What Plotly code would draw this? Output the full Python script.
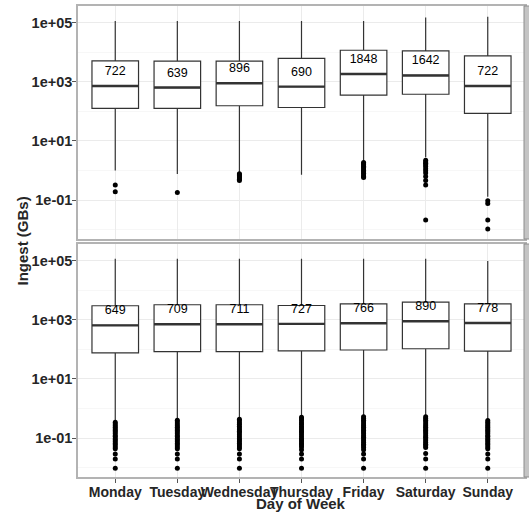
import plotly.graph_objects as go
from plotly.subplots import make_subplots

days = ["Monday", "Tuesday", "Wednesday", "Thursday", "Friday", "Saturday", "Sunday"]

# Top panel: box statistics (GBs)
top_median = [722, 639, 896, 690, 1848, 1642, 722]
top_q1 = [127, 127, 155, 135, 352, 380, 86]
top_q3 = [5100, 5000, 5000, 6200, 11700, 11200, 7600]
top_low = [1.0, 0.76, 0.82, 0.72, 1.9, 2.8, 0.13]
top_high = [115000, 115000, 115000, 115000, 115000, 150000, 158000]
top_outliers = [
    [0.32, 0.19],
    [0.18],
    [0.78, 0.72, 0.66, 0.6, 0.55, 0.5, 0.46],
    [],
    [1.85, 1.7, 1.55, 1.4, 1.25, 1.12, 1.0, 0.9, 0.8, 0.7, 0.62, 0.58],
    [2.2, 1.95, 1.75, 1.55, 1.35, 1.15, 0.98, 0.82, 0.62, 0.46, 0.32, 0.021],
    [0.095, 0.076, 0.021, 0.0105],
]

# Bottom panel: box statistics (GBs)
bot_median = [649, 709, 711, 727, 766, 890, 778]
bot_q1 = [76, 84, 84, 89, 95, 105, 87]
bot_q3 = [2990, 3240, 3240, 3050, 3470, 3980, 3470]
bot_low = [0.36, 0.42, 0.45, 0.5, 0.52, 0.52, 0.4]
bot_high = [117000, 117000, 117000, 117000, 117000, 117000, 98000]
bot_outliers_start = [0.34, 0.4, 0.43, 0.5, 0.52, 0.52, 0.39]
bot_outliers_tail = [
    [0.3, 0.26, 0.23, 0.2, 0.18, 0.16, 0.14, 0.12, 0.11, 0.095, 0.085, 0.075, 0.065, 0.058, 0.05, 0.043, 0.029, 0.0195, 0.0095],
    [0.35, 0.3, 0.26, 0.23, 0.2, 0.18, 0.16, 0.14, 0.12, 0.11, 0.095, 0.085, 0.075, 0.065, 0.058, 0.05, 0.043, 0.029, 0.0195, 0.0095],
    [0.38, 0.33, 0.29, 0.25, 0.22, 0.19, 0.17, 0.15, 0.13, 0.11, 0.095, 0.085, 0.075, 0.065, 0.058, 0.05, 0.043, 0.029, 0.0195, 0.0095],
    [0.44, 0.38, 0.33, 0.29, 0.25, 0.22, 0.19, 0.17, 0.15, 0.13, 0.11, 0.095, 0.085, 0.075, 0.065, 0.058, 0.05, 0.04, 0.029, 0.0195, 0.0095],
    [0.46, 0.4, 0.35, 0.3, 0.26, 0.23, 0.2, 0.18, 0.16, 0.14, 0.12, 0.105, 0.092, 0.08, 0.07, 0.062, 0.055, 0.048, 0.04, 0.029, 0.0195, 0.0095],
    [0.46, 0.4, 0.35, 0.3, 0.26, 0.23, 0.2, 0.18, 0.16, 0.14, 0.12, 0.105, 0.092, 0.08, 0.07, 0.062, 0.055, 0.048, 0.03, 0.0195, 0.0095],
    [0.34, 0.3, 0.26, 0.23, 0.2, 0.18, 0.16, 0.14, 0.12, 0.11, 0.095, 0.085, 0.075, 0.065, 0.058, 0.05, 0.043, 0.029, 0.0195, 0.0095],
]

tick_vals = [0.1, 10, 1000, 100000]
tick_text = ["1e-01", "1e+01", "1e+03", "1e+05"]
minor_vals = [0.01, 1, 100, 10000]

LINE = "#333333"
TXT = "#262626"
FONT = "Liberation Sans, Arial"
W, H = 529, 512
L, R, T, B = 78, 0, 6, 35

fig = make_subplots(rows=2, cols=1, shared_xaxes=True, vertical_spacing=0)


def add_panel(row, q1, med, q3, low, high, outliers):
    fig.add_trace(go.Box(
        x=days, q1=q1, median=med, q3=q3, lowerfence=low, upperfence=high,
        width=0.75, whiskerwidth=0, fillcolor="white",
        line=dict(color=LINE, width=1.2), boxpoints=False,
        showlegend=False, hoverinfo="skip"), row=row, col=1)
    # heavier median stroke
    fig.add_trace(go.Box(
        x=days, q1=med, median=med, q3=med, lowerfence=med, upperfence=med,
        width=0.75, whiskerwidth=0, fillcolor="rgba(0,0,0,0)",
        line=dict(color=LINE, width=2.4), boxpoints=False,
        showlegend=False, hoverinfo="skip"), row=row, col=1)
    ox, oy = [], []
    for d, vals in zip(days, outliers):
        ox += [d] * len(vals)
        oy += vals
    fig.add_trace(go.Scatter(
        x=ox, y=oy, mode="markers", marker=dict(color="black", size=5),
        showlegend=False, hoverinfo="skip"), row=row, col=1)
    fig.add_trace(go.Scatter(
        x=days, y=[m * 3 for m in med], mode="text", text=[str(m) for m in med],
        textfont=dict(family=FONT, size=12.5, color="black"),
        textposition="middle center", showlegend=False, hoverinfo="skip"),
        row=row, col=1)


add_panel(1, top_q1, top_median, top_q3, top_low, top_high, top_outliers)
bot_outliers = [[s] + t for s, t in zip(bot_outliers_start, bot_outliers_tail)]
add_panel(2, bot_q1, bot_median, bot_q3, bot_low, bot_high, bot_outliers)

plot_w = W - L - R
plot_h = H - T - B
x_right = 447 / plot_w
gap = 5 / plot_h
half = (1 - gap) / 2

fig.update_layout(
    width=W, height=H, margin=dict(l=L, r=R, t=T, b=B),
    paper_bgcolor="white", plot_bgcolor="white", boxmode="overlay",
    font=dict(family=FONT, color=TXT),
)

for ax in ("yaxis", "yaxis2"):
    fig.layout[ax].update(
        type="log", range=[-2.32, 5.566], tickvals=tick_vals, ticktext=tick_text,
        showgrid=True, gridcolor="#ebebeb", gridwidth=1, zeroline=False,
        minor=dict(tickvals=minor_vals, showgrid=True, gridcolor="#f7f7f7", gridwidth=1, ticks=""),
        ticks="outside", ticklen=4, tickcolor="#555555", tickwidth=1,
        tickfont=dict(family=FONT, size=14.5, color=TXT, weight="bold"),
        ticklabelstandoff=-3,
        showline=True, mirror=True, linecolor="#b3b3b3", linewidth=1.5,
    )
fig.layout.yaxis.domain = [half + gap, 1]
fig.layout.yaxis2.domain = [0, half]

for ax in ("xaxis", "xaxis2"):
    fig.layout[ax].update(
        range=[-0.6, 6.6], domain=[0, x_right], tickangle=0,
        showgrid=True, gridcolor="#ebebeb", gridwidth=1,
        ticks="outside", ticklen=4, tickcolor="#555555", tickwidth=1,
        tickfont=dict(family=FONT, size=14, color=TXT, weight="bold"),
        ticklabelstandoff=-3,
        showline=True, mirror=True, linecolor="#b3b3b3", linewidth=1.5,
    )
fig.layout.xaxis.showticklabels = False
fig.layout.xaxis.ticks = ""

# facet strips on the right edge
strip_x0 = (524 - L) / plot_w
for y0, y1 in ((half + gap, 1), (0, half)):
    fig.add_shape(type="rect", xref="paper", yref="paper", x0=strip_x0, x1=1.02,
                  y0=y0, y1=y1, fillcolor="#c4c4c4", line=dict(color="#8c8c8c", width=1), layer="above")

# axis titles
fig.add_annotation(text="<b>Day of Week</b>", xref="paper", yref="paper",
                   x=(301 - L) / plot_w, y=-(503 - (H - B)) / plot_h, showarrow=False,
                   font=dict(size=15, color=TXT), xanchor="center", yanchor="middle")
fig.add_annotation(text="<b>Ingest (GBs)</b>", xref="paper", yref="paper",
                   x=-(L - 22) / plot_w, y=0.5, textangle=-90, showarrow=False,
                   font=dict(size=15, color=TXT), xanchor="center", yanchor="middle")

fig.write_html("out.html")
